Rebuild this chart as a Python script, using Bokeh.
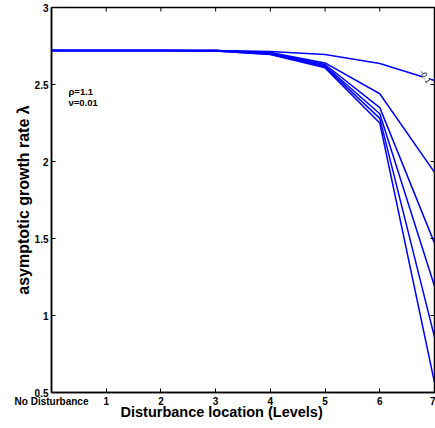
import math
from bokeh.plotting import figure
from bokeh.models import FixedTicker, Label, Range1d, Title
from bokeh.embed import file_html
from bokeh.resources import INLINE

levels = [0, 1, 2, 3, 4, 5, 6, 7]
series = [
    [2.72, 2.72, 2.72, 2.72, 2.715, 2.695, 2.636, 2.526],
    [2.72, 2.72, 2.72, 2.72, 2.708, 2.640, 2.440, 1.930],
    [2.72, 2.72, 2.72, 2.72, 2.704, 2.630, 2.350, 1.470],
    [2.72, 2.72, 2.72, 2.72, 2.700, 2.622, 2.310, 1.190],
    [2.72, 2.72, 2.72, 2.718, 2.697, 2.615, 2.280, 0.860],
    [2.72, 2.72, 2.72, 2.718, 2.694, 2.608, 2.250, 0.565],
]
x_ticks = [0, 1, 2, 3, 4, 5, 6, 7]
x_tick_labels = {0: "No Disturbance"}
y_ticks = [0.5, 1, 1.5, 2, 2.5, 3]
y_tick_labels = {0.5: "0.5", 1: "1", 1.5: "1.5", 2: "2", 2.5: "2.5", 3: "3"}
x_min, x_max = 0, 7
y_min, y_max = 0.5, 3

FONT = "Liberation Sans"

p = figure(width=435, height=428, output_backend="svg", toolbar_location=None,
           x_range=Range1d(x_min, x_max), y_range=Range1d(y_min, y_max),
           min_border_left=51, min_border_right=1, min_border_top=7, min_border_bottom=36)
p.grid.visible = False
p.outline_line_color = "black"
p.outline_line_width = 1.5

for s in series:
    p.line(levels, s, line_color="#0000ff", line_width=1.5)

# inner ticks on the top and right edges of the box
p.ray(x=x_ticks, y=[y_max] * len(x_ticks), length=4, length_units="screen",
      angle=-math.pi / 2, line_color="black", line_width=1)
p.ray(x=[x_max] * len(y_ticks), y=y_ticks, length=4, length_units="screen",
      angle=math.pi, line_color="black", line_width=1)

for ax in (p.xaxis[0], p.yaxis[0]):
    ax.major_tick_in = 4
    ax.major_tick_out = 0
    ax.minor_tick_line_color = None
    ax.axis_line_width = 1.5
    ax.major_label_text_font = FONT
    ax.major_label_text_font_style = "bold"
    ax.major_label_text_font_size = "10px"
    ax.major_label_text_color = "black"
    ax.major_label_standoff = 3

p.xaxis[0].ticker = FixedTicker(ticks=x_ticks)
p.xaxis[0].major_label_overrides = {k: v for k, v in x_tick_labels.items()}
p.yaxis[0].ticker = FixedTicker(ticks=y_ticks)
p.yaxis[0].major_label_overrides = {k: v for k, v in y_tick_labels.items()}

p.add_layout(Title(text="asymptotic growth rate λ", align="center",
                   text_font=FONT, text_font_style="bold", text_font_size="16px",
                   text_color="black", standoff=0), "left")
p.add_layout(Title(text="Disturbance location (Levels)", align="left", offset=69,
                   vertical_align="top", text_font=FONT, text_font_style="bold",
                   text_font_size="14.5px", text_color="black", standoff=-12), "below")

p.add_layout(Label(x=0.31, y=2.455, text="ρ=1.1", text_align="left", text_baseline="middle",
                   text_font=FONT, text_font_style="bold", text_font_size="9.5px", text_color="black"))
p.add_layout(Label(x=0.31, y=2.38, text="ν=0.01", text_align="left", text_baseline="middle",
                   text_font=FONT, text_font_style="bold", text_font_size="9.5px", text_color="black"))
p.add_layout(Label(x=6.83, y=2.55, text="-0.1", angle=-1.0, text_align="center",
                   text_baseline="middle", text_font=FONT, text_font_size="8px",
                   text_color="black", background_fill_color="white"))

open("out.html", "w").write(file_html(p, INLINE))
